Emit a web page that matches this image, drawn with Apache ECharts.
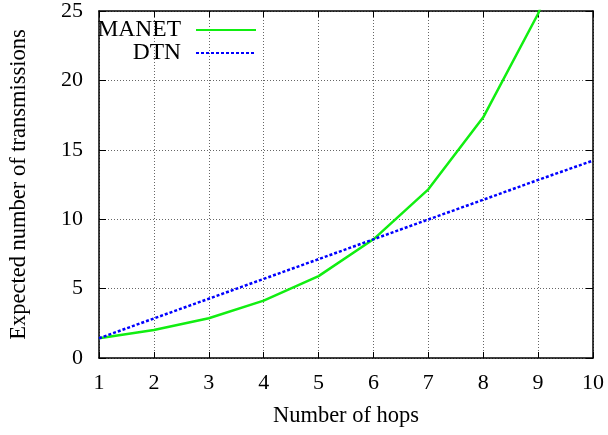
<!DOCTYPE html>
<html><head><meta charset="utf-8">
<script src="https://cdn.jsdelivr.net/npm/echarts@6/dist/echarts.min.js"></script>
<style>html,body{margin:0;padding:0;background:#fff}#c{width:608px;height:435px}</style>
</head><body><div id="c"></div>
<script>
const hops = [1, 2, 3, 4, 5, 6, 7, 8, 9, 10];
const manet = [1.42, 2.02, 2.86, 4.13, 5.9, 8.55, 12.15, 17.34, 24.8, 35.5];
const dtn = [1.42, 2.85, 4.27, 5.7, 7.12, 8.55, 9.98, 11.4, 12.83, 14.22];
const xTicks = [1, 2, 3, 4, 5, 6, 7, 8, 9, 10];
const yTicks = [0, 5, 10, 15, 20, 25];
const xName = 'Number of hops';
const yName = 'Expected number of transmissions';

const font = 'Liberation Serif, Times New Roman, serif';
const chart = echarts.init(document.getElementById('c'), null, {renderer: 'canvas'});
const gridLine = {show: true, lineStyle: {color: '#666', width: 1, type: [1, 2]}};
const axisLine = {show: true, onZero: false, lineStyle: {color: '#000', width: 1.5}};
const legendCommon = {right: 346, align: 'right', itemWidth: 60, itemHeight: 14, itemGap: 0,
  itemStyle: {color: 'rgba(0,0,0,0)', borderWidth: 0, opacity: 0},
  textStyle: {fontFamily: font, fontSize: 23.5, color: '#000', padding: [0, 10, 0, 0]}, selectedMode: false};
chart.setOption({
  animation: false,
  backgroundColor: '#fff',
  grid: {left: 99, right: 15, top: 11, bottom: 77, containLabel: false, outerBoundsMode: 'none'},
  legend: [
    Object.assign({data: ['MANET'], top: 13}, legendCommon),
    Object.assign({data: ['DTN'], top: 36}, legendCommon)
  ],
  xAxis: [
    {type: 'value', min: 1, max: 10, interval: 1, position: 'bottom',
     name: xName, nameLocation: 'middle', nameGap: 47,
     nameTextStyle: {fontFamily: font, fontSize: 22.5, color: '#000'},
     axisLine: axisLine, axisTick: {show: true, inside: true, length: 6, lineStyle: {color: '#000'}},
     axisLabel: {fontFamily: font, fontSize: 22, color: '#000', margin: 14,
       formatter: v => xTicks.includes(v) ? String(v) : ''},
     splitLine: gridLine},
    {type: 'value', min: 1, max: 10, interval: 1, position: 'top',
     axisLine: axisLine, axisTick: {show: true, inside: true, length: 6, lineStyle: {color: '#000'}},
     axisLabel: {show: false}, splitLine: {show: false}}
  ],
  yAxis: [
    {type: 'value', min: 0, max: 25, interval: 5, position: 'left',
     name: yName, nameLocation: 'middle', nameGap: 68, nameRotate: 90,
     nameTextStyle: {fontFamily: font, fontSize: 22.5, color: '#000'},
     axisLine: axisLine, axisTick: {show: true, inside: true, length: 7, lineStyle: {color: '#000'}},
     axisLabel: {fontFamily: font, fontSize: 22, color: '#000', margin: 16,
       formatter: v => yTicks.includes(v) ? String(v) : ''},
     splitLine: gridLine},
    {type: 'value', min: 0, max: 25, interval: 5, position: 'right',
     axisLine: axisLine, axisTick: {show: true, inside: true, length: 7, lineStyle: {color: '#000'}},
     axisLabel: {show: false}, splitLine: {show: false}}
  ],
  series: [
    {name: 'MANET', type: 'line', xAxisIndex: 0, yAxisIndex: 0, symbol: 'none', clip: true,
     data: hops.map((h, i) => [h, manet[i]]),
     lineStyle: {color: '#11ee11', width: 2.5}, itemStyle: {color: '#11ee11'}},
    {name: 'DTN', type: 'line', xAxisIndex: 0, yAxisIndex: 0, symbol: 'none', clip: true,
     data: hops.map((h, i) => [h, dtn[i]]),
     lineStyle: {color: '#0000ff', width: 2.5, type: [3, 2]}, itemStyle: {color: '#0000ff'}}
  ]
});
</script></body></html>
